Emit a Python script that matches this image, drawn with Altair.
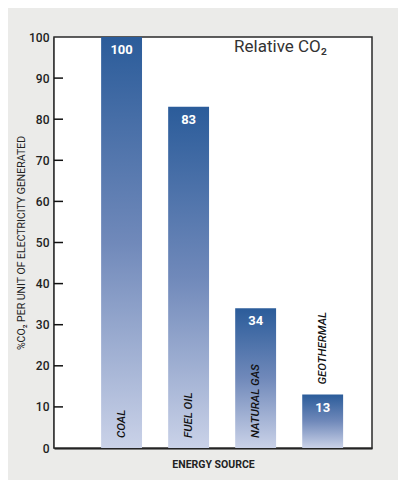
import altair as alt
import pandas as pd

categories = ["COAL", "FUEL OIL", "NATURAL GAS", "GEOTHERMAL"]
values = [100, 83, 34, 13]
value_labels = ["100", "83", "34", "13"]
axis_values = [0, 10, 20, 30, 40, 50, 60, 70, 80, 90, 100]
inner_ticks = [10, 20, 30, 40, 50, 60, 70, 80, 90]

df = pd.DataFrame({"source": categories, "value": values, "label": value_labels})
ticks_df = pd.DataFrame({"tick": inner_ticks})
frame_df = pd.DataFrame({"frame": [0]})

FONT = "Roboto, sans-serif"

x_scale = alt.Scale(domain=categories, paddingInner=0.39, paddingOuter=0.567, align=0.62)
y_scale = alt.Scale(domain=[0, 100], nice=False)

x_axis = alt.Axis(labels=False, ticks=False, domain=True, domainColor="#111", domainWidth=2,
                  title="ENERGY SOURCE", titleFont=FONT, titleFontSize=10.5,
                  titleFontWeight="bold", titleColor="#222", titlePadding=11)
y_axis = alt.Axis(values=axis_values, ticks=False, labelPadding=5, labelFont=FONT,
                  labelFontSize=12, labelFontWeight=500, labelColor="#222",
                  domainColor="#111", domainWidth=2,
                  grid=False, title="%CO₂ PER UNIT OF ELECTRICITY GENERATED", titleFont=FONT,
                  titleFontSize=10.5, titleFontWeight="normal", titleColor="#222", titlePadding=2)

gradient = alt.Gradient(
    gradient="linear",
    stops=[alt.GradientStop(color="#2b5c9a", offset=0),
           alt.GradientStop(color="#7089ba", offset=0.5),
           alt.GradientStop(color="#cad2e8", offset=1)],
    x1=0, x2=0, y1=0, y2=1,
)

frame = alt.Chart(frame_df).mark_rect(fill="white", stroke="#2a2a2a", strokeWidth=1.5).encode(
    x=alt.value(0), x2=alt.value("width"), y=alt.value(0), y2=alt.value("height"),
)

base = alt.Chart(df)
x_enc = alt.X("source:N", scale=x_scale, sort=categories, axis=x_axis)

bars = base.mark_bar(color=gradient).encode(
    x=x_enc,
    y=alt.Y("value:Q", scale=y_scale, axis=y_axis),
)

value_text = base.mark_text(color="white", font=FONT, fontWeight="bold", fontSize=13,
                            baseline="middle", dy=13).encode(
    x=x_enc,
    y=alt.Y("value:Q", scale=y_scale, axis=y_axis),
    text="label:N",
)

cat_text = base.transform_calculate(
    label_y="datum.value < 20 ? datum.value : 0"
).mark_text(angle=270, align="left", baseline="middle", font=FONT, fontStyle="italic",
            fontWeight=500, fontSize=11.5, color="#111", dx=10).encode(
    x=x_enc,
    y=alt.Y("label_y:Q", scale=y_scale, axis=y_axis),
    text="source:N",
)

tick_rules = alt.Chart(ticks_df).mark_rule(color="#111", strokeWidth=1.5).encode(
    y=alt.Y("tick:Q", scale=y_scale, axis=y_axis),
    x=alt.value(0),
    x2=alt.value(9),
)

chart = alt.layer(frame, bars, value_text, cat_text, tick_rules).properties(
    width=318,
    height=411,
    autosize=alt.AutoSizeParams(type="none"),
    padding={"left": 46, "top": 29, "right": 26, "bottom": 32},
    background="#ebebe9",
    title=alt.TitleParams("Relative CO₂", anchor="end", orient="top", frame="group",
                          font=FONT, fontSize=17, fontWeight="normal", color="#333",
                          offset=0, dx=-45, dy=38, baseline="alphabetic"),
).configure_view(
    fill="white", strokeWidth=0
)

chart.save("out.html", embed_options={"renderer": "svg", "actions": False})
